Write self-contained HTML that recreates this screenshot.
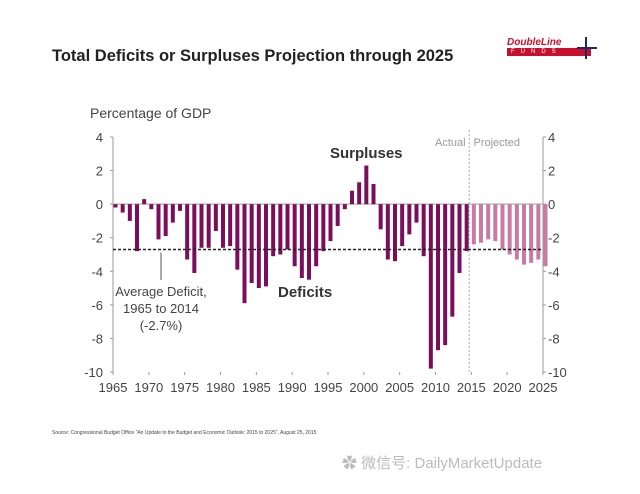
<!DOCTYPE html>
<html><head><meta charset="utf-8"><style>
body{margin:0;background:#fff;font-family:"Liberation Sans","Noto Sans CJK SC",sans-serif}
#wrap{position:relative;width:640px;height:494px;overflow:hidden;background:#fff}
</style></head><body>
<div id="wrap">
<div style="position:absolute;left:52px;top:47px;font-size:16.5px;font-weight:bold;color:#222">Total Deficits or Surpluses Projection through 2025</div>
<div style="position:absolute;left:507px;top:37px;width:90px;height:22px">
 <div style="font-size:10px;font-weight:bold;color:#c8102e;font-style:italic">DoubleLine</div>
 <div style="background:#c8102e;color:#fff;font-size:6px;letter-spacing:6px;height:8px;line-height:8px;width:80px;padding-left:4px">FUNDS</div>
 <div style="position:absolute;left:78px;top:0;width:2px;height:22px;background:#1a2a6c"></div>
 <div style="position:absolute;left:70px;top:10px;width:20px;height:2px;background:#1a2a6c"></div>
</div>
<svg id="chart" width="640" height="494" style="position:absolute;left:0;top:0" font-family="Liberation Sans, sans-serif"></svg>
<div style="position:absolute;left:52px;top:430px;font-size:5px;color:#444">Source: Congressional Budget Office "An Update to the Budget and Economic Outlook: 2015 to 2025", August 25, 2015</div>
<div style="position:absolute;left:342px;top:452px;font-size:15px;color:#bbb">✿ 微信号: DailyMarketUpdate</div>
</div>
<script>
const actualYears=[1965,1966,1967,1968,1969,1970,1971,1972,1973,1974,1975,1976,1977,1978,1979,1980,1981,1982,1983,1984,1985,1986,1987,1988,1989,1990,1991,1992,1993,1994,1995,1996,1997,1998,1999,2000,2001,2002,2003,2004,2005,2006,2007,2008,2009,2010,2011,2012,2013,2014];
const actualValues=[-0.2,-0.5,-1.0,-2.8,0.3,-0.3,-2.1,-1.9,-1.1,-0.4,-3.3,-4.1,-2.6,-2.6,-1.6,-2.6,-2.5,-3.9,-5.9,-4.7,-5.0,-4.9,-3.1,-3.0,-2.7,-3.7,-4.4,-4.5,-3.7,-2.8,-2.2,-1.3,-0.3,0.8,1.3,2.3,1.2,-1.5,-3.3,-3.4,-2.5,-1.8,-1.1,-3.1,-9.8,-8.7,-8.4,-6.7,-4.1,-2.8];
const projYears=[2015,2016,2017,2018,2019,2020,2021,2022,2023,2024,2025];
const projValues=[-2.4,-2.3,-2.1,-2.2,-2.7,-3.0,-3.3,-3.6,-3.5,-3.3,-3.7];
const yTicks=[4,2,0,-2,-4,-6,-8,-10];
const xTicks=[1965,1970,1975,1980,1985,1990,1995,2000,2005,2010,2015,2020,2025];
const avgDeficit=-2.7;
const svg=document.getElementById('chart');const NS='http://www.w3.org/2000/svg';
const X0=113,X1=543,Y0=137,Y1=372;
const x=yr=>X0+(yr-1965)*(X1-X0)/60;
const y=v=>Y0+(4-v)*(Y1-Y0)/14;
function mk(t,a,txt){const e=document.createElementNS(NS,t);for(const k in a)e.setAttribute(k,a[k]);if(txt!=null)e.textContent=txt;svg.appendChild(e);return e;}
let e;
e=mk('text',{x:90,y:118,'font-size':14,fill:'#444'},'Percentage of GDP');


e=mk('line',{x1:X0,y1:Y0,x2:X0,y2:Y1,stroke:'#999','stroke-width':1});


e=mk('line',{x1:X1,y1:Y0,x2:X1,y2:Y1,stroke:'#999','stroke-width':1});


e=mk('line',{x1:X0,y1:y(0),x2:X1,y2:y(0),stroke:'#bbb','stroke-width':1.5});


yTicks.forEach(v=>{
 e=mk('text',{x:X0-10,y:y(v)+5,'font-size':13,fill:'#444','text-anchor':'end'},String(v));
 
 
 e=mk('text',{x:X1+5,y:y(v)+5,'font-size':13,fill:'#444'},String(v));
 
 
 mk('line',{x1:X0-3,y1:y(v),x2:X0,y2:y(v),stroke:'#999'});
 mk('line',{x1:X1,y1:y(v),x2:X1+3,y2:y(v),stroke:'#999'});
});
xTicks.forEach(t=>{
 e=mk('text',{x:x(t),y:Y1+20,'font-size':13,fill:'#444','text-anchor':'middle'},String(t));
 
 
 mk('line',{x1:x(t),y1:Y1,x2:x(t),y2:Y1+3,stroke:'#999'});
});
function bars(yrs,vals,col,name){yrs.forEach((yr,i)=>{const v=vals[i];
 e=mk('rect',{x:x(yr)+0.5,y:Math.min(y(0),y(v)),width:4,height:Math.abs(y(v)-y(0)),fill:col});
 
 });}
bars(actualYears,actualValues,'#7a0e5c','bar');
bars(projYears,projValues,'#c77ba4','bar-projected');
e=mk('line',{x1:X0,y1:y(avgDeficit),x2:X1,y2:y(avgDeficit),stroke:'#222','stroke-width':1.5,'stroke-dasharray':'3,2'});


e=mk('line',{x1:x(2014.7),y1:130,x2:x(2014.7),y2:Y1,stroke:'#aaa','stroke-dasharray':'2,2'});


e=mk('text',{x:x(2014.2),y:146,'font-size':11,fill:'#999','text-anchor':'end'},'Actual');


e=mk('text',{x:x(2015.3),y:146,'font-size':11,fill:'#999'},'Projected');


e=mk('text',{x:330,y:158,'font-size':15,'font-weight':'bold',fill:'#333'},'Surpluses');


e=mk('text',{x:278,y:297,'font-size':15,'font-weight':'bold',fill:'#333'},'Deficits');


mk('line',{x1:161,y1:y(avgDeficit)+3,x2:161,y2:280,stroke:'#555'});
['Average Deficit,','1965 to 2014','(-2.7%)'].forEach((s,i)=>{
 e=mk('text',{x:161,y:296+i*17,'font-size':13,fill:'#444','text-anchor':'middle'},s);
 
 
});
</script>
</body></html>
